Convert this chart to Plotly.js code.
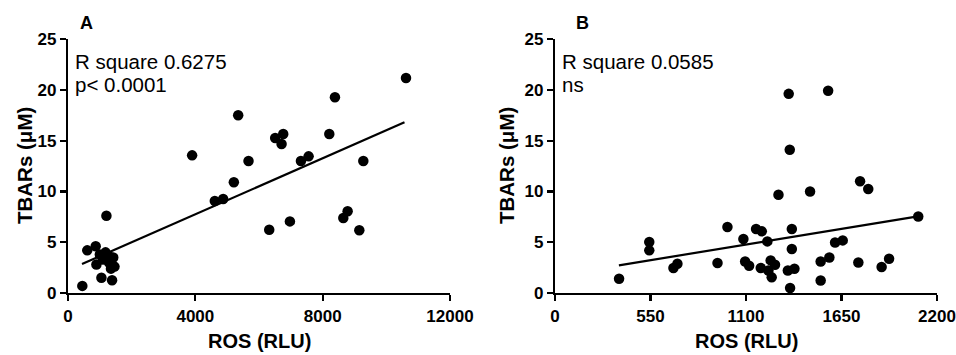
<!DOCTYPE html>
<html>
<head>
<meta charset="utf-8">
<script src="https://cdn.plot.ly/plotly-3.0.1.min.js"></script>
<style>html,body{margin:0;padding:0;background:#fff;}#chart{width:956px;height:355px;}</style>
</head>
<body>
<div id="chart"></div>
<script>
// Panel A: ROS (RLU) vs TBARs (µM)
const rosA = [450, 605, 870, 893, 1050, 1384, 1207, 1180, 1300, 1420, 1460, 1100, 1000, 1350, 1290,
  3899, 4612, 4874, 5210, 5346, 5671, 6321, 6509, 6761, 6709, 6971, 7317, 7558, 8208, 8386, 8648, 8784, 9151, 9277, 10618];
const tbarsA = [0.7, 4.2, 4.6, 2.8, 1.5, 1.25, 7.6, 4.0, 3.6, 3.5, 2.6, 3.3, 3.8, 2.4, 3.0,
  13.55, 9.06, 9.25, 10.9, 17.5, 13.0, 6.23, 15.26, 15.65, 14.67, 7.05, 13.0, 13.45, 15.65, 19.26, 7.38, 8.04, 6.17, 13.0, 21.16];
const fitAx = [440, 10570];
const fitAy = [2.85, 16.8];

// Panel B
const rosB = [369, 543, 543, 682, 705, 936, 993, 1085, 1095, 1118, 1158, 1191, 1185, 1223, 1242, 1267, 1229, 1248,
  1287, 1341, 1379, 1364, 1364, 1354, 1469, 1530, 1580, 1530, 1613, 1657, 1747, 1757, 1804, 1881, 1924, 2092,
  1346, 1573, 1352];
const tbarsB = [1.4, 5.02, 4.2, 2.46, 2.88, 2.95, 6.5, 5.31, 3.11, 2.69, 6.3, 6.07, 2.46, 5.08, 3.21, 2.79, 2.22, 1.54,
  9.67, 2.22, 2.39, 4.33, 6.3, 0.49, 10.0, 3.11, 3.5, 1.24, 4.98, 5.18, 3.01, 11.0, 10.24, 2.56, 3.38, 7.54,
  19.6, 19.9, 14.1];
const fitBx = [368, 2090];
const fitBy = [2.72, 7.55];

const yTicks = [0, 5, 10, 15, 20, 25];
const xTicksA = [0, 4000, 8000, 12000];
const xTicksB = [0, 550, 1100, 1650, 2200];

const marker = {color: '#000', size: 10.5, line: {width: 0}};
const data = [
  {x: rosA, y: tbarsA, type: 'scatter', mode: 'markers', marker: marker, xaxis: 'x', yaxis: 'y', cliponaxis: false, hoverinfo: 'x+y'},
  {x: fitAx, y: fitAy, type: 'scatter', mode: 'lines', line: {color: '#000', width: 2.2}, xaxis: 'x', yaxis: 'y', cliponaxis: false},
  {x: rosB, y: tbarsB, type: 'scatter', mode: 'markers', marker: marker, xaxis: 'x2', yaxis: 'y2', cliponaxis: false, hoverinfo: 'x+y'},
  {x: fitBx, y: fitBy, type: 'scatter', mode: 'lines', line: {color: '#000', width: 2.2}, xaxis: 'x2', yaxis: 'y2', cliponaxis: false}
];

const tickFont = {family: 'Liberation Sans, Arial, sans-serif', size: 17, color: '#000', weight: 'bold'};
function xax(domain, ticks, range, anchor) {
  return {domain: domain, range: range, tickvals: ticks, ticktext: ticks.map(String), showgrid: false, zeroline: false,
    showline: true, linecolor: '#000', linewidth: 2.2, ticks: 'outside', ticklen: 6, tickwidth: 2.2, tickcolor: '#000',
    tickfont: tickFont, anchor: anchor, fixedrange: true, automargin: false};
}
function yax(anchor) {
  return {domain: [0.1746, 0.8901], range: [0, 25], tickvals: yTicks, ticktext: yTicks.map(String), showgrid: false, zeroline: false,
    showline: true, linecolor: '#000', linewidth: 2.2, ticks: 'outside', ticklen: 6, tickwidth: 2.2, tickcolor: '#000',
    tickfont: tickFont, anchor: anchor, fixedrange: true, automargin: false};
}
const F = 'Liberation Sans, Arial, sans-serif';
const ann = [];
function addTexts(xref, yref, px, label, l1, l2, yTitleX) {
  ann.push({xref: 'paper', yref: 'paper', x: px, y: 1 - 23/355, xanchor: 'center', yanchor: 'middle', text: '<b>' + label + '</b>', showarrow: false, font: {family: F, size: 18, color: '#000'}});
  ann.push({xref: xref + ' domain', yref: 'paper', x: 0.012, y: 1 - 62/355, xanchor: 'left', yanchor: 'middle', text: l1, showarrow: false, font: {family: F, size: 20.5, color: '#000'}});
  ann.push({xref: xref + ' domain', yref: 'paper', x: 0.012, y: 1 - 84/355, xanchor: 'left', yanchor: 'middle', text: l2, showarrow: false, font: {family: F, size: 20.5, color: '#000'}});
  ann.push({xref: xref + ' domain', yref: 'paper', x: 0.5, y: 1 - 341/355, xanchor: 'center', yanchor: 'middle', text: '<b>ROS (RLU)</b>', showarrow: false, font: {family: F, size: 20, color: '#000'}});
  ann.push({xref: 'paper', yref: yref + ' domain', x: yTitleX, y: 0.5, xanchor: 'center', yanchor: 'middle', textangle: -90, text: '<b>TBARs (μM)</b>', showarrow: false, font: {family: F, size: 20.5, color: '#000'}});
}
addTexts('x', 'y', 86/956, 'A', 'R square 0.6275', 'p&lt; 0.0001', 24/956);
addTexts('x2', 'y2', 582/956, 'B', 'R square 0.0585', 'ns', 506/956);

const layout = {
  width: 956, height: 355,
  margin: {l: 0, r: 0, t: 0, b: 0},
  paper_bgcolor: '#fff', plot_bgcolor: '#fff',
  showlegend: false,
  xaxis: xax([68/956, 450/956], xTicksA, [0, 12000], 'y'),
  yaxis: yax('x'),
  xaxis2: xax([555/956, 937/956], xTicksB, [0, 2200], 'y2'),
  yaxis2: yax('x2'),
  annotations: ann
};
Plotly.newPlot('chart', data, layout, {displayModeBar: false, staticPlot: true});
</script>
</body>
</html>
